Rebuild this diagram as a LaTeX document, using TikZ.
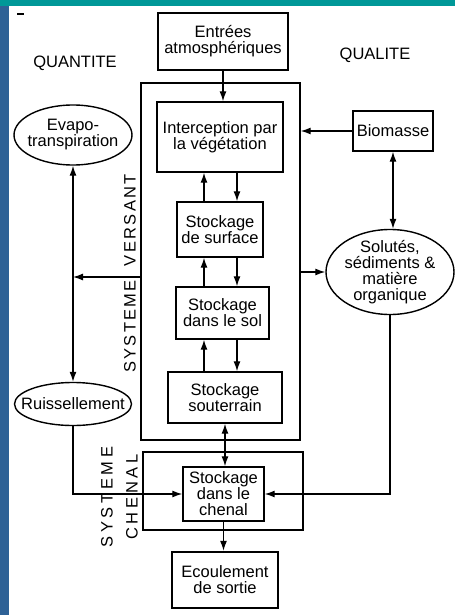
\documentclass[tikz,border=0pt]{standalone}
\usepackage{fontspec}
\setmainfont{Liberation Sans}
\usepackage{tikz}
\usetikzlibrary{arrows,arrows.meta,calc,shapes.geometric,positioning}
\tikzset{>={Latex[length=10pt,width=7pt]}}

\definecolor{slideteal}{RGB}{0,152,152}
\definecolor{slideblue}{RGB}{46,97,150}
\newcommand{\diagfont}{\fontsize{16.5}{16}\selectfont}

\tikzset{
  box/.style={draw, line width=1.4pt, align=center, inner sep=0pt, font=\diagfont},
  heavybox/.style={box, line width=2.4pt},
  bubble/.style={draw, ellipse, line width=1.4pt, align=center, inner sep=-20pt, font=\diagfont},
  link/.style={line width=1.3pt},
  flow/.style={link, ->},
  syslabel/.style={rotate=90, inner sep=0pt, font=\fontsize{16.5}{25}\selectfont\addfontfeature{LetterSpace=#1}}
}

\begin{document}
\begin{tikzpicture}[x=1pt, y=-1pt]
  \useasboundingbox (0,0) rectangle (455,615);
  \fill[white] (0,0) rectangle (455,615);
  \fill[slideteal] (0,0) rectangle (455,6);
  \fill[slideblue] (0,6) rectangle (9,615);
  \draw[line width=1.2pt] (17,14) -- (24,14);

  \node[font=\diagfont] (quantite) at (75,63) {QUANTITE};
  \node[font=\diagfont] (qualite) at (375,55) {QUALITE};

  \node[heavybox, minimum width=130pt, minimum height=57pt] (entrees) at (223,41.5) {Entrées\\atmosphériques};
  \node[box, minimum width=159pt, minimum height=357pt] (versant) at (220.5,261.5) {};
  \node[box, minimum width=126pt, minimum height=70pt] (interception) at (220,137) {Interception par\\la végétation};
  \node[box, minimum width=86pt, minimum height=55pt] (surface) at (220,229.5) {Stockage\\de surface};
  \node[box, minimum width=93pt, minimum height=52pt] (sol) at (222.5,313) {Stockage\\dans le sol};
  \node[box, minimum width=114pt, minimum height=51pt] (souterrain) at (225,397.5) {Stockage\\souterrain};
  \node[box, minimum width=160pt, minimum height=78pt] (chenalsys) at (223,491) {};
  \node[box, minimum width=81pt, minimum height=54pt] (chenal) at (223.5,494) {Stockage\\dans le\\chenal};
  \node[heavybox, minimum width=106pt, minimum height=56pt] (ecoulement) at (225,580) {Ecoulement\\de sortie};
  \node[box, minimum width=80pt, minimum height=40pt] (biomasse) at (393,131) {Biomasse};

  \node[bubble, minimum width=118pt, minimum height=60pt] (evapo) at (73,135) {Evapo-\\transpiration};
  \node[bubble, minimum width=117pt, minimum height=43pt] (ruiss) at (73,404) {Ruissellement};
  \node[bubble, minimum width=128pt, minimum height=85pt] (solutes) at (390,272) {Solutés,\\sédiments \&\\matière\\organique};

  \node[syslabel=14] (labversant) at (130,273.5) {SYSTEME\hspace{14pt}VERSANT};
  \node[syslabel=22, align=center] (labchenal) at (119.5,497) {SYSTEME\\CHENAL};

  \coordinate (down) at (237,0);
  \coordinate (up) at (204,0);
  \coordinate (split) at (73,277);

  \draw[flow] (entrees.south) -- (entrees.south |- interception.north);
  \draw[flow] (biomasse.west) -- (biomasse.west -| versant.east);
  \draw[link, <->] (biomasse.south) -- (biomasse.south |- solutes.north);
  \draw[flow] (solutes.west -| versant.east) -- (solutes.west);
  \draw[flow] (split -| versant.west) -- (split);
  \draw[link, <->] (evapo.south) -- (ruiss.north);

  \foreach \upper/\lower in {interception/surface,surface/sol,sol/souterrain}
  {
  \draw[flow] (\upper.south -| down) -- (\lower.north -| down);
  \draw[flow] (\lower.north -| up) -- (\upper.south -| up);
  }

  \draw[link, <->] (souterrain.south) -- (souterrain.south |- chenal.north);
  \draw[flow] (chenal.south) -- (chenal.south |- ecoulement.north);
  \draw[flow] (ruiss.south) |- (chenal.west);
  \draw[flow] (solutes.south) |- (chenal.east);
\end{tikzpicture}
\end{document}
